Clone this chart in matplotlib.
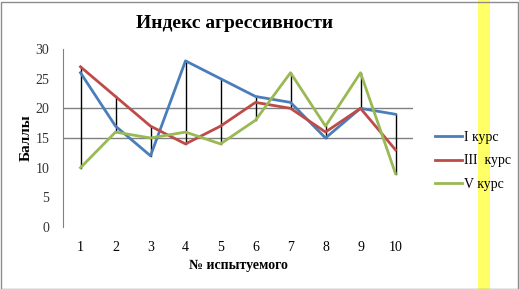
import matplotlib
matplotlib.use("Agg")
import matplotlib.pyplot as plt
from matplotlib.patches import Rectangle

categories = [1, 2, 3, 4, 5, 6, 7, 8, 9, 10]
kurs1 = [26, 17, 12, 28, 25, 22, 21, 15, 20, 19]
kurs3 = [27, 22, 17, 14, 17, 21, 20, 16, 20, 13]
kurs5 = [10, 16, 15, 16, 14, 18, 26, 17, 26, 9]
series_names = ["I курс", "III  курс", "V курс"]
yticks = [0, 5, 10, 15, 20, 25, 30]

plt.rcParams['font.family'] = ['Liberation Serif', 'DejaVu Serif']

fig = plt.figure(figsize=(5.19, 2.89), dpi=100)
# yellow stripe
fig.patches.append(Rectangle((478/519, 0), 12/519, 1, transform=fig.transFigure,
                             facecolor='#FFFF66', edgecolor='none', zorder=-5))
fig.patches.append(Rectangle((0.5/519, 0.5/289), 517/519, 287/289, transform=fig.transFigure,
                             facecolor='none', edgecolor='#8c8c8c', linewidth=1, zorder=5))

ax = fig.add_axes([63/519, 1-227/289, 350/519, 178/289])
ax.set_facecolor('none')

for g in [15, 20]:
    ax.axhline(g, color='#808080', linewidth=1.0, zorder=1)

# high-low lines
for x, a, b, c in zip(categories, kurs1, kurs3, kurs5):
    ax.plot([x, x], [min(a, b, c), max(a, b, c)], color='black', linewidth=1.0, zorder=2)

ax.plot(categories, kurs1, color='#4A7EBB', linewidth=2.0, label=series_names[0], zorder=3)
ax.plot(categories, kurs3, color='#BE4B48', linewidth=2.0, label=series_names[1], zorder=3)
ax.plot(categories, kurs5, color='#98B954', linewidth=2.0, label=series_names[2], zorder=3)

ax.set_xlim(0.5, 10.5)
ax.set_ylim(0, 30)
ax.set_xticks(categories)
ax.set_xticklabels([str(c) for c in categories], fontsize=10)
ax.set_yticks(yticks)
ax.set_yticklabels([str(t) for t in yticks], fontsize=10, color='#333333')
ax.tick_params(axis='both', length=0)
ax.tick_params(axis='x', pad=10)
ax.tick_params(axis='y', pad=10)
for s in ['top', 'right', 'bottom']:
    ax.spines[s].set_visible(False)
ax.spines['left'].set_color('#808080')

ax.set_xlabel("№ испытуемого", fontsize=10, fontweight='bold', labelpad=4)
ax.set_ylabel("Баллы", fontsize=11, fontweight='bold', labelpad=2)
fig.text(235/519, 1-23/289, "Индекс агрессивности", ha='center', va='center',
         fontsize=14, fontweight='bold')

leg = ax.legend(loc='center left', bbox_to_anchor=(422/519, 1-161/289), bbox_transform=fig.transFigure,
                frameon=False, fontsize=10, handlelength=2.0, handletextpad=0.1, labelspacing=0.75)
leg.set_zorder(10)

fig.savefig("out.png", dpi=100)
